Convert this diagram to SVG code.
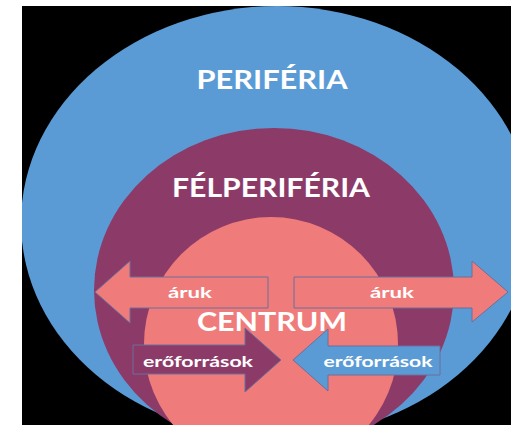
<svg xmlns="http://www.w3.org/2000/svg" width="511" height="425" viewBox="0 0 511 425">
  <defs>
    <clipPath id="frame"><rect x="22" y="6" width="489" height="419"/></clipPath>
    <style>
      .lbl { font-family: Lato, "Open Sans", "Liberation Sans", sans-serif; font-weight: bold; fill: #FFFFFF; text-anchor: middle; }
      .big { font-size: 26px; }
      .small { font-size: 15px; }
      .arrow { stroke: #6C6F9B; stroke-width: 1; }
    </style>
  </defs>
  <rect x="0" y="0" width="511" height="425" fill="#FFFFFF"/>
  <rect x="22" y="6" width="489" height="419" fill="#000000"/>
  <g clip-path="url(#frame)">
    <g id="periferia">
      <ellipse cx="277" cy="222" rx="256" ry="216" fill="#5B9BD5"/>
      <text class="lbl big" x="272" y="89" textLength="151" lengthAdjust="spacingAndGlyphs">PERIFÉRIA</text>
    </g>
    <g id="felperiferia">
      <ellipse cx="274" cy="290" rx="180" ry="162" fill="#8C3B69"/>
      <text class="lbl big" x="271" y="197" textLength="198" lengthAdjust="spacingAndGlyphs">FÉLPERIFÉRIA</text>
    </g>
    <g id="centrum">
      <circle cx="271" cy="344" r="127" fill="#EF7C7B"/>
    </g>
    <g id="connectors">
      <g id="aruk-left">
        <polygon class="arrow" fill="#EF7C7B" points="268,277 268,308 130,308 130,323 95,292 130,261 130,277"/>
        <text class="lbl small" x="190" y="298" textLength="44" lengthAdjust="spacingAndGlyphs">áruk</text>
      </g>
      <g id="aruk-right">
        <polygon class="arrow" fill="#EF7C7B" points="294,277 472,277 472,261 508,292 472,322 472,308 294,308"/>
        <text class="lbl small" x="392" y="298" textLength="44" lengthAdjust="spacingAndGlyphs">áruk</text>
      </g>
      <g id="eroforrasok-left">
        <polygon class="arrow" fill="#8C3B69" points="133,345 245,345 245,328 281,360 245,392 245,374 133,374"/>
        <text class="lbl small" x="198" y="367" textLength="110" lengthAdjust="spacingAndGlyphs">erőforrások</text>
      </g>
      <g id="eroforrasok-right">
        <polygon class="arrow" fill="#5B9BD5" points="440,346 440,375 328,375 328,391 293,360 328,329 328,346"/>
        <text class="lbl small" x="378" y="367" textLength="109" lengthAdjust="spacingAndGlyphs">erőforrások</text>
      </g>
    </g>
    <text class="lbl big" x="272" y="331" textLength="150" lengthAdjust="spacingAndGlyphs">CENTRUM</text>
  </g>
</svg>
